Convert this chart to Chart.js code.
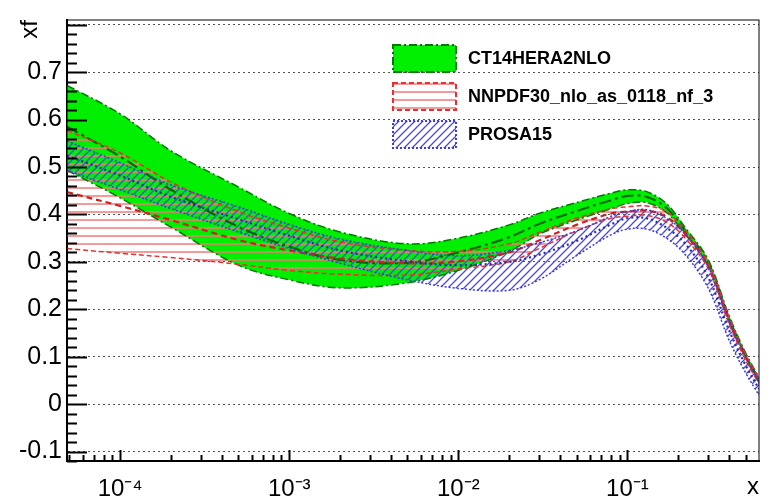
<!DOCTYPE html>
<html>
<head>
<meta charset="utf-8">
<script src="https://cdn.jsdelivr.net/npm/chart.js@4.4.1/dist/chart.umd.min.js"></script>
<style>
  html, body { margin: 0; padding: 0; background: #fff; }
  #wrap { width: 772px; height: 500px; }
</style>
</head>
<body>
<div id="wrap"><canvas id="pdfChart" width="772" height="500"></canvas></div>
<script>
// x grid (log scale) and tick values
const xs = [4.85e-5, 1e-4, 2e-4, 5e-4, 1e-3, 2e-3, 5e-3, 1e-2, 2e-2, 3e-2, 5e-2, 0.08, 0.1, 0.13, 0.17, 0.22, 0.3, 0.4, 0.5, 0.6];
const xDecades = [1e-4, 1e-3, 1e-2, 1e-1];
const yTickValues = [-0.1, 0, 0.1, 0.2, 0.3, 0.4, 0.5, 0.6, 0.7, 0.8];
const yTickLabels = ['-0.1', '0', '0.1', '0.2', '0.3', '0.4', '0.5', '0.6', '0.7', ''];

// CT14HERA2NLO
const ctUpper   = [0.672, 0.612, 0.534, 0.458, 0.402, 0.363, 0.338, 0.350, 0.378, 0.402, 0.425, 0.445, 0.452, 0.448, 0.423, 0.372, 0.305, 0.186, 0.108, 0.056];
const ctCentral = [0.585, 0.522, 0.452, 0.374, 0.332, 0.304, 0.298, 0.320, 0.352, 0.380, 0.407, 0.430, 0.439, 0.437, 0.414, 0.365, 0.299, 0.179, 0.103, 0.051];
const ctLower   = [0.493, 0.435, 0.373, 0.293, 0.262, 0.245, 0.256, 0.282, 0.322, 0.358, 0.388, 0.412, 0.423, 0.425, 0.404, 0.358, 0.292, 0.172, 0.097, 0.046];

// NNPDF30_nlo_as_0118_nf_3
const nnUpper   = [0.577, 0.530, 0.468, 0.406, 0.371, 0.342, 0.324, 0.322, 0.338, 0.362, 0.392, 0.412, 0.416, 0.418, 0.406, 0.366, 0.298, 0.183, 0.105, 0.054];
const nnCentral = [0.447, 0.418, 0.388, 0.346, 0.324, 0.307, 0.297, 0.301, 0.320, 0.345, 0.378, 0.402, 0.406, 0.408, 0.395, 0.358, 0.292, 0.175, 0.099, 0.048];
const nnLower   = [0.328, 0.318, 0.309, 0.295, 0.282, 0.274, 0.272, 0.285, 0.300, 0.328, 0.365, 0.392, 0.396, 0.398, 0.384, 0.350, 0.286, 0.168, 0.093, 0.043];

// PROSA15
const prUpper   = [0.555, 0.509, 0.462, 0.416, 0.379, 0.348, 0.324, 0.313, 0.324, 0.340, 0.365, 0.396, 0.406, 0.410, 0.392, 0.360, 0.290, 0.175, 0.100, 0.046];
const prCentral = [0.524, 0.482, 0.437, 0.390, 0.355, 0.324, 0.301, 0.293, 0.300, 0.315, 0.344, 0.379, 0.392, 0.392, 0.372, 0.338, 0.268, 0.155, 0.082, 0.032];
const prLower   = [0.493, 0.452, 0.412, 0.363, 0.328, 0.297, 0.262, 0.244, 0.240, 0.262, 0.313, 0.357, 0.369, 0.369, 0.350, 0.315, 0.245, 0.134, 0.066, 0.019];

const bandLabels = ['PROSA15', 'NNPDF30_nlo_as_0118_nf_3', 'CT14HERA2NLO'];

const X_MIN = 4.85e-5, X_MAX = 0.6, Y_MIN = -0.12, Y_MAX = 0.81;
const FONT = "'Liberation Sans', Arial, Helvetica, sans-serif";

function toPoints(arr) {
    return xs.map((x, i) => ({ x: x, y: arr[i] }));
}

// small tiles for ROOT-like hatch styles
function makeHatch(kind, color) {
    const c = document.createElement('canvas');
    c.width = 8; c.height = 8;
    const g = c.getContext('2d');
    g.strokeStyle = color;
    g.beginPath();
    if (kind === 'horizontal') {
        g.lineWidth = 1.5;
        g.moveTo(0, 4); g.lineTo(8, 4);
    } else {
        g.lineWidth = 1.3;
        g.moveTo(0, 8); g.lineTo(8, 0);
        g.moveTo(-1, 1); g.lineTo(1, -1);
        g.moveTo(7, 9); g.lineTo(9, 7);
    }
    g.stroke();
    return g.createPattern(c, 'repeat');
}

const styles = {
    prosa: { fill: makeHatch('diagonal', '#4848f0'), edge: '#3a3ae0', edgeDash: [2, 2], mid: '#2a2aa8', midDash: [2, 3] },
    nnpdf: { fill: makeHatch('horizontal', '#f27878'), edge: '#e83030', edgeDash: [5, 3], mid: '#cc2222', midDash: [6, 4] },
    ct14:  { fill: '#00ee00', edge: '#007a00', edgeDash: [8, 3, 2, 3], mid: '#006a00', midDash: [12, 4, 3, 4] }
};

function bandDatasets(label, upper, lower, central, st) {
    const common = { pointRadius: 0, tension: 0.35, borderWidth: 1.5 };
    return [
        Object.assign({ label: label, data: toPoints(upper), fill: '+1', backgroundColor: st.fill,
            borderColor: st.edge, borderDash: st.edgeDash, legendStyle: st }, common),
        Object.assign({ label: label + ' lower', data: toPoints(lower), fill: false,
            borderColor: st.edge, borderDash: st.edgeDash }, common),
        Object.assign({ label: label + ' central', data: toPoints(central), fill: false,
            borderColor: st.mid, borderDash: st.midDash }, common, { borderWidth: 2.2 })
    ];
}

// lower index is drawn on top: PROSA over NNPDF over CT14
const datasets = [].concat(
    bandDatasets(bandLabels[0], prUpper, prLower, prCentral, styles.prosa),
    bandDatasets(bandLabels[1], nnUpper, nnLower, nnCentral, styles.nnpdf),
    bandDatasets(bandLabels[2], ctUpper, ctLower, ctCentral, styles.ct14)
);

function supExp(n) {
    const map = { '-': '\u207B', '0': '\u2070', '1': '\u00B9', '2': '\u00B2', '3': '\u00B3', '4': '\u2074', '5': '\u2075' };
    return String(n).split('').map(c => map[c]).join('');
}

// inner tick marks, frame and in-plot legend, ROOT style
const rootDecor = {
    id: 'rootDecor',
    afterDraw(chart) {
        const ctx = chart.ctx, a = chart.chartArea;
        const xS = chart.scales.x, yS = chart.scales.y;
        ctx.save();
        ctx.strokeStyle = '#000';
        ctx.lineWidth = 1;
        ctx.strokeRect(a.left, a.top, a.right - a.left, a.bottom - a.top);

        ctx.lineWidth = 2;
        ctx.beginPath();
        for (let k = -6; k <= 40; k++) {
            const v = k * 0.02;
            if (v < Y_MIN || v > Y_MAX) continue;
            const py = Math.round(yS.getPixelForValue(v)) + 0.5;
            const len = (k % 5 === 0) ? 20 : 10;
            ctx.moveTo(a.left, py);
            ctx.lineTo(a.left + len, py);
        }
        for (let e = -5; e <= -1; e++) {
            for (let m = 1; m <= 9; m++) {
                const v = m * Math.pow(10, e);
                if (v < X_MIN || v > X_MAX) continue;
                const px = Math.round(xS.getPixelForValue(v)) + 0.5;
                const len = (m === 1) ? 11 : 6;
                ctx.moveTo(px, a.bottom);
                ctx.lineTo(px, a.bottom - len);
            }
        }
        ctx.stroke();

        // legend
        const boxX = 393, boxW = 63, boxH = 27, textX = 468;
        const rows = [45, 83, 121];
        const entries = chart.data.datasets.filter(d => d.legendStyle).reverse();
        entries.forEach((d, i) => {
            const st = d.legendStyle, y = rows[i];
            ctx.fillStyle = '#fff';
            ctx.fillRect(boxX, y, boxW, boxH);
            ctx.fillStyle = st.fill;
            ctx.fillRect(boxX, y, boxW, boxH);
            ctx.setLineDash(st.edgeDash);
            ctx.strokeStyle = st.edge;
            ctx.lineWidth = 2;
            ctx.strokeRect(boxX, y, boxW, boxH);
            ctx.setLineDash([]);
            ctx.fillStyle = '#000';
            ctx.font = "bold 18px " + FONT;
            ctx.textAlign = 'left';
            ctx.textBaseline = 'middle';
            ctx.fillText(d.label, textX, y + boxH / 2 + 1);
        });
        ctx.restore();
    }
};

new Chart(document.getElementById('pdfChart'), {
    type: 'line',
    data: { datasets: datasets },
    options: {
        responsive: false,
        animation: false,
        layout: { padding: { left: 0, top: 10, right: 13, bottom: 0 } },
        plugins: {
            legend: { display: false },
            tooltip: { enabled: false },
            filler: { drawTime: 'beforeDatasetsDraw' }
        },
        scales: {
            x: {
                type: 'logarithmic',
                min: X_MIN,
                max: X_MAX,
                afterBuildTicks: s => { s.ticks = xDecades.map(v => ({ value: v })); },
                afterFit: s => { s.height = 39; },
                grid: { display: false, drawTicks: false },
                border: { display: true, width: 2, color: '#000' },
                ticks: {
                    autoSkip: false,
                    maxRotation: 0,
                    padding: 14,
                    color: '#000',
                    font: { family: FONT, size: 24 },
                    callback: v => '10' + supExp(Math.round(Math.log10(v)))
                },
                title: {
                    display: true, text: 'x', align: 'end', color: '#000',
                    font: { family: FONT, size: 24, lineHeight: 1 },
                    padding: { top: 0, bottom: 1 }
                }
            },
            y: {
                min: Y_MIN,
                max: Y_MAX,
                afterBuildTicks: s => { s.ticks = yTickValues.map(v => ({ value: v })); },
                afterFit: s => { s.width = 67; },
                grid: { color: '#555', lineWidth: 1, drawTicks: false },
                border: { display: true, width: 2, color: '#000', dash: [2, 3] },
                ticks: {
                    padding: 5,
                    color: '#000',
                    font: { family: FONT, size: 25 },
                    callback: (v, i) => yTickLabels[i]
                },
                title: {
                    display: true, text: 'xf', align: 'end', color: '#000',
                    font: { family: FONT, size: 24, lineHeight: 1 },
                    padding: { top: 18, bottom: 0 }
                }
            }
        }
    },
    plugins: [rootDecor]
});
</script>
</body>
</html>
